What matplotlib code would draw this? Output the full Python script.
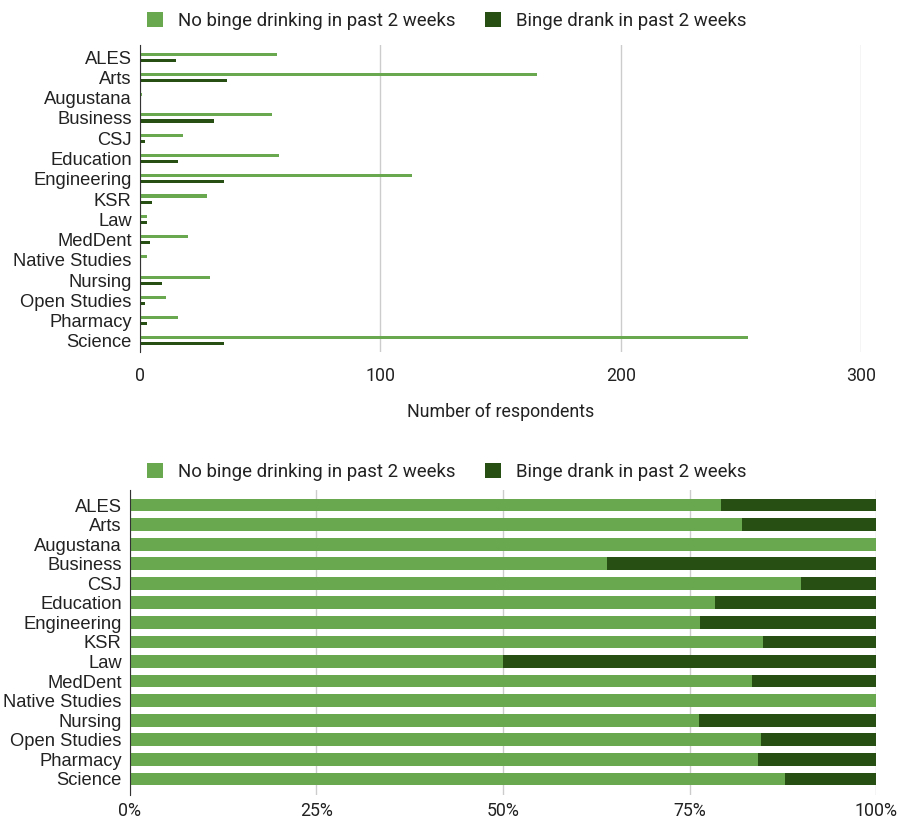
import numpy as np
import matplotlib.pyplot as plt

# faculty counts
faculties = ["ALES", "Arts", "Augustana", "Business", "CSJ", "Education",
             "Engineering", "KSR", "Law", "MedDent", "Native Studies",
             "Nursing", "Open Studies", "Pharmacy", "Science"]
no_binge = [57, 165, 1, 55, 18, 58, 113, 28, 3, 20, 3, 29, 11, 16, 253]
binge = [15, 36, 0, 31, 2, 16, 35, 5, 3, 4, 0, 9, 2, 3, 35]
xticks_top = [0, 100, 200, 300]
xticks_pct = [0, 25, 50, 75, 100]
pct_labels = ["0%", "25%", "50%", "75%", "100%"]

light = "#6aa84f"
dark = "#274e13"
grid_c = "#cccccc"
txt_c = "#222222"
lab_font = "Liberation Sans"
tick_font = "Roboto"

fig = plt.figure(figsize=(9.02, 8.21), dpi=100)

y = np.arange(len(faculties))

# top: grouped counts
ax1 = fig.add_axes([0.1552, 0.5712, 0.7993, 0.374])
ax1.barh(y - 0.15, no_binge, height=0.15, color=light, label="No binge drinking in past 2 weeks", zorder=3)
ax1.barh(y + 0.15, binge, height=0.15, color=dark, label="Binge drank in past 2 weeks", zorder=3)
ax1.set_xlim(0, 300)
ax1.set_ylim(14.55, -0.6)
ax1.set_xticks(xticks_top)
ax1.set_xticklabels([str(v) for v in xticks_top], fontsize=12.8, family=tick_font, color=txt_c)
ax1.set_yticks(y)
ax1.set_yticklabels(faculties, fontsize=13.2, family=lab_font, color=txt_c)
ax1.tick_params(length=0, pad=6)
ax1.tick_params(axis="x", pad=11)
ax1.grid(axis="x", color=grid_c, lw=1, zorder=0)
for s in ["top", "right", "bottom"]:
    ax1.spines[s].set_visible(False)
ax1.spines["left"].set_color("#333333")
ax1.spines["left"].set_zorder(4)
ax1.set_xlabel("Number of respondents", fontsize=12.8, family=tick_font, color=txt_c, labelpad=13)
fig.legend(*ax1.get_legend_handles_labels(), loc="center", bbox_to_anchor=(0.495, 1 - 21 / 821),
           ncol=2, frameon=False, prop={"family": tick_font, "size": 13.4},
           handlelength=0.85, handleheight=0.85, handletextpad=0.8, columnspacing=1.6,
           labelcolor=txt_c)

# bottom: 100% stacked
tot = np.array(no_binge) + np.array(binge)
p_no = np.array(no_binge) / tot * 100
p_b = np.array(binge) / tot * 100

ax2 = fig.add_axes([0.1441, 0.0317, 0.8271, 0.3715])
ax2.barh(y, p_no, height=0.65, color=light, label="No binge drinking in past 2 weeks", zorder=3)
ax2.barh(y, p_b, left=p_no, height=0.65, color=dark, label="Binge drank in past 2 weeks", zorder=3)
ax2.set_xlim(0, 100)
ax2.set_ylim(14.82, -0.77)
ax2.set_xticks(xticks_pct)
ax2.set_xticklabels(pct_labels, fontsize=12.8, family=tick_font, color=txt_c)
ax2.set_yticks(y)
ax2.set_yticklabels(faculties, fontsize=13.2, family=lab_font, color=txt_c)
ax2.tick_params(length=0, pad=6)
ax2.tick_params(axis="x", pad=5)
ax2.grid(axis="x", color=grid_c, lw=1, zorder=0)
for s in ["top", "right", "bottom"]:
    ax2.spines[s].set_visible(False)
ax2.spines["left"].set_color("#333333")
ax2.spines["left"].set_zorder(4)
fig.legend(*ax2.get_legend_handles_labels(), loc="center", bbox_to_anchor=(0.495, 1 - 472 / 821),
           ncol=2, frameon=False, prop={"family": tick_font, "size": 13.4},
           handlelength=0.85, handleheight=0.85, handletextpad=0.8, columnspacing=1.6,
           labelcolor=txt_c)

fig.savefig("out.png", dpi=100)
